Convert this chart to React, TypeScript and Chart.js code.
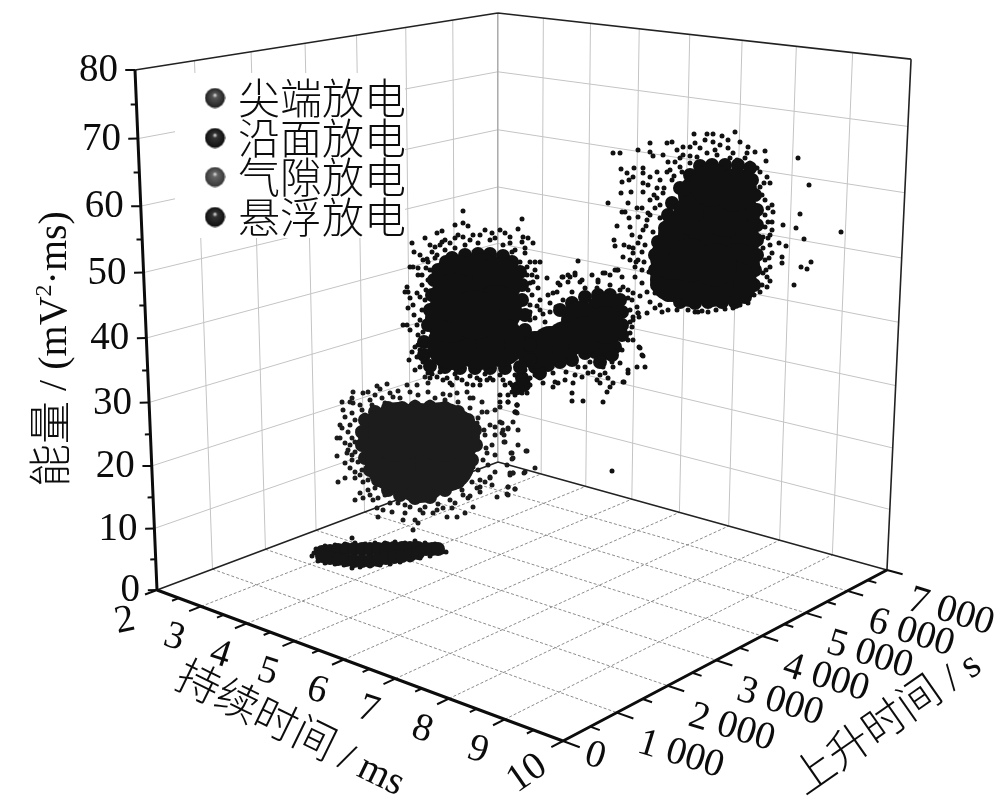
import React, { useEffect, useRef } from "react";
import { Chart, registerables } from "chart.js";

Chart.register(...registerables);

// ---------- axis values ----------
const durationTicks = [2, 3, 4, 5, 6, 7, 8, 9, 10];
const durationMinor = [2.5, 3.5, 4.5, 5.5, 6.5, 7.5, 8.5, 9.5];
const riseTicks = [0, 1000, 2000, 3000, 4000, 5000, 6000, 7000];
const riseMinor = [500, 1500, 2500, 3500, 4500, 5500, 6500];
const energyTicks = [0, 10, 20, 30, 40, 50, 60, 70, 80];
const energyMinor = [5, 15, 25, 35, 45, 55, 65, 75];
const riseLabels = ["0", "1 000", "2 000", "3 000", "4 000", "5 000", "6 000", "7 000"];
const legendNames = ["尖端放电", "沿面放电", "气隙放电", "悬浮放电"];

// ---------- legend markers, in the chart's projected plane ----------
const legendMarks = [[215, 98], [215, 138], [215, 177], [215, 217]];

// ---------- dense cores of each cloud, in the projected plane ----------
const coreA = [[700,195],[725,195],[738,215],[738,240],[738,265],[735,283],[712,285],[690,285],[672,280],[672,258],[680,235],[695,215],[710,240],[690,260],[725,215],[715,265],[712,185],[735,190]];
const coreB = [[457,280],[480,278],[497,282],[497,310],[500,342],[480,345],[452,345],[450,318],[455,298],[475,315]];
const coreC = [[605,312],[600,335],[580,320],[565,340],[550,345],[535,350],[585,335],[605,325]];
const coreD = [[388,437],[450,437],[420,433],[420,473],[395,462],[445,462],[398,432],[442,432]];

// ---------- outer rim of each cloud ----------
const rimA = [[700,166],[712,165],[725,165],[738,165],[750,168],[752,180],[755,195],[757,210],[757,225],[757,240],[757,255],[755,270],[754,285],[745,297],[735,302],[722,302],[708,302],[695,303],[680,302],[668,295],[657,285],[655,270],[655,255],[658,242],[665,228],[668,215],[672,203],[680,188],[690,175]];
const rimB = [[446,262],[452,258],[465,255],[478,254],[490,254],[503,256],[512,262],[520,272],[522,285],[522,300],[525,315],[525,330],[530,345],[530,360],[520,367],[505,368],[490,368],[475,368],[460,368],[445,367],[430,366],[424,355],[424,342],[428,325],[430,310],[432,295],[434,280],[438,270]];
const rimC = [[560,310],[572,303],[585,297],[598,295],[610,295],[620,300],[622,312],[622,325],[622,335],[615,347],[605,353],[595,352],[585,353],[572,360],[560,362],[548,365],[535,367],[522,378],[518,388],[524,385],[540,373],[600,362],[612,355]];
const rimD = [[365,420],[375,412],[388,408],[402,408],[415,407],[430,407],[445,408],[458,412],[468,420],[475,430],[476,445],[472,460],[465,472],[458,482],[445,490],[430,497],[415,498],[400,495],[388,490],[378,480],[370,470],[365,458],[362,445],[362,432]];
const rimE = [[322,552],[330,551],[338,550],[346,549],[354,549],[362,549],[370,549],[378,549],[386,548],[394,548],[402,548],[410,548],[418,548],[426,549],[432,549],[438,549],[322,556],[330,558],[338,559],[346,560],[354,561],[362,561],[370,561],[378,560],[386,558],[394,557],[402,556],[410,555],[418,553]];

// ---------- loose points of each cloud, in the projected plane ----------
const sprayA = [[735,132],[694,134],[707,134],[713,134],[722,136],[728,140],[613,153],[620,153],[638,150],[650,143],[650,152],[653,156],[765,151],[766,161],[798,158],[809,185],[800,214],[783,225],[796,228],[804,239],[841,232],[779,243],[786,246],[782,257],[782,263],[801,267],[807,269],[811,262],[794,285],[770,281],[772,253],
[621,169],[634,168],[627,173],[633,177],[629,180],[622,182],[621,193],[631,192],[608,203],[628,203],[622,212],[625,212],[629,218],[617,226],[614,240],[615,246],[623,257],[624,245],[630,227],[637,208],[638,217],[632,235],[629,247],[633,248],[630,260],[638,260],[643,168],[643,173],[650,177],[643,183],[643,192],[648,185],[657,172],[650,200],[657,198],[642,208],[648,213],[655,208],[647,220],[660,218],[643,230],[640,237],[633,253],[642,252],[635,267],[642,270],[635,277],[642,283],[647,292],[655,293],[668,310],[677,310],[695,312],[698,312],[708,312],[725,309],[740,305],[754,295],[760,292],[767,287],[647,313],[655,308],[638,313],[639,317],[633,320],
[667,143],[672,142],[663,155],[668,162],[677,150],[683,147],[690,147],[695,143],[705,140],[713,142],[720,145],[728,148],[740,142],[748,147],[755,152],[747,153],[733,153],[717,155],[707,153],[697,157],[683,155],[675,162],[680,167],[690,163],[700,163],[710,163],[723,162],[737,160],[750,163],[757,168],[667,172],[660,180],[672,180],[657,188],[663,193],
[767,177],[770,183],[760,187],[765,200],[772,205],[773,212],[765,215],[772,222],[765,227],[772,230],[763,237],[768,238],[763,248],[765,260],[770,267],[763,273],[767,277],
[682,172],[674,176],[664,188],[654,195],[660,205],[650,215],[646,226],[653,232],[638,243],[645,245],[636,262],[644,262],[649,272],[640,296],[650,302],[660,305],[662,312],[688,310],[702,311],[716,310],[733,308],[748,303],[762,285],[766,270],[769,258],[770,245],[770,235],[768,222],[768,208],[762,195],[764,183],[760,172],[745,158],[730,158],[715,150],[700,148],[690,156],[680,158],[670,170]];

const sprayB = [[463,211],[455,225],[463,223],[468,226],[442,231],[437,233],[425,238],[455,238],[412,243],[414,252],[435,247],[442,242],[432,252],[463,237],[473,235],[485,230],[500,230],[505,233],[518,229],[522,219],[523,237],[528,238],[533,243],[522,242],[515,250],[525,253],[535,262],[540,262],[527,267],[532,275],[537,277],[533,282],[538,288],[532,295],[540,300],
[407,287],[408,292],[405,292],[410,298],[413,305],[408,308],[418,275],[413,267],[410,267],[423,260],[427,259],[418,268],[422,285],[420,297],[407,325],[403,325],[417,325],[420,320],[423,332],[420,342],[415,347],[420,350],[417,357],[409,360],[415,370],[420,367],[428,373],[437,377],[443,380],[450,383],[457,378],[467,384],[473,385],[480,385],[487,380],[493,380],[510,383],[517,387],[515,395],[522,393],[508,402],[517,405],[515,412],[500,395],[500,402],
[428,262],[435,258],[445,250],[455,248],[465,245],[478,243],[490,240],[503,245],[512,252],[520,262],[527,275],[528,290],[530,305],[530,320],[530,335],[428,280],[425,300],[422,310],[428,320],[423,340],[418,335],[426,355],[432,365],[440,372],[455,374],[470,376],[485,374],[500,375],[515,375],[525,370],[528,380],[535,375],
[426,268],[422,275],[426,290],[417,293],[414,315],[410,330],[418,345],[412,352],[423,362],[432,374],[447,378],[462,380],[477,378],[490,378],[503,380],[525,375],[440,245],[450,243],[470,240],[495,238],[510,243],[525,248],[530,262],[535,270],[530,283],[437,255],
[445,240],[458,235],[480,235],[492,233],[510,237],[430,245],[420,255],[430,270],[430,378],[452,385],[480,380],[512,385],[530,378],[505,385]];

const sprayC = [[547,278],[548,295],[557,292],[560,285],[563,277],[570,277],[568,282],[575,273],[582,280],[592,275],[598,282],[603,273],[610,275],[617,270],[622,277],[578,261],[543,383],[555,382],[558,383],[553,387],[565,380],[575,375],[572,393],[572,401],[583,401],[603,402],[607,392],[600,383],[597,380],[610,387],[613,383],[623,382],[585,367],[597,360],[603,367],[613,367],[620,363],[628,373],[628,370],[637,367],[645,367],[642,355],[639,347],[633,340],[630,333],[632,327],[633,317],[638,313],[637,307],[632,300],[633,293],[628,290],[623,287],[593,372],[588,373],[582,377],[600,375],[605,373],[608,378],[573,383],[640,348],[643,356],[624,382],[612,471],[562,277],[568,275],[575,275],[605,273],[615,270],[618,270],[553,293],[558,283],[580,282],[598,280],
[540,310],[550,303],[563,300],[572,292],[585,288],[597,288],[610,285],[620,290],[628,298],[630,310],[630,322],[628,340],[622,350],[612,362],[590,362],[578,367],[566,372],[553,373],[540,378],[530,385],[527,393],[512,392],[508,395],[535,318],[543,314],[530,312],[537,306],[550,312],[545,322],[556,307]];

const sprayD = [[387,384],[377,386],[380,389],[368,392],[363,393],[353,392],[352,398],[350,402],[342,402],[353,403],[370,400],[382,398],[390,393],[398,391],[407,385],[417,385],[425,377],[428,383],[418,395],[443,394],[435,398],[457,393],[467,392],[473,398],[482,402],[487,412],[495,410],[500,407],[500,422],[502,433],[495,427],[503,430],[508,428],[518,430],[505,442],[518,445],[527,451],[512,453],[513,458],[507,465],[517,413],[515,412],[508,402],[517,405],[343,410],[345,417],[340,425],[342,428],[350,425],[337,438],[340,438],[345,443],[348,450],[347,453],[337,456],[352,460],[350,468],[355,472],[338,482],[345,478],[355,478],[363,482],[360,493],[355,500],[363,498],[370,495],[373,500],[377,508],[383,510],[378,517],[392,512],[405,513],[403,520],[415,520],[418,523],[413,530],[423,513],[433,513],[447,517],[457,517],[465,513],[473,507],[455,503],[443,508],[497,497],[508,495],[515,489],[508,487],[492,485],[495,472],[490,477],[510,473],[513,473],[525,472],[480,487],[477,488],[485,482],[470,496],[463,495],[480,480],[473,467],[487,453],[492,445],[485,435],[477,423],
[362,410],[372,405],[365,415],[355,420],[358,430],[352,438],[350,445],[355,452],[358,462],[362,470],[368,480],[375,488],[385,495],[398,503],[410,507],[425,507],[438,504],[450,500],[462,490],[472,482],[478,470],[483,460],[486,448],[484,430],[478,418],[470,408],[458,402],[445,400],[430,402],[415,402],[400,398],[385,403],[375,395],[517,405],[516,412],[513,422],[502,423],[508,429],[504,435],[504,442],[526,451],[511,453],[512,459],[535,468],[513,473],[510,475],[524,473],[508,487],[515,489],[507,494],
[360,405],[352,413],[348,432],[355,442],[352,455],[345,463],[360,475],[368,490],[378,498],[390,503],[405,505],[420,510],[437,510],[452,508],[468,498],[480,492],[490,478],[488,465],[495,455],[495,435],[490,425],[482,412],[470,398],[450,395],[428,392],[410,392],[393,397]];

const sprayE = [[312,556],[314,553],[316,549],[318,561],[325,546],[335,545],[345,544],[355,543],[352,538],[365,544],[375,543],[385,543],[395,542],[405,543],[415,541],[425,543],[435,544],[440,547],[446,552],[442,552],[437,552],[430,556],[420,558],[410,560],[400,562],[390,564],[380,565],[370,566],[360,567],[352,568],[344,565],[335,564],[325,563]];

// ---------- projection of (duration, rise time, energy) to the chart plane ----------
function project(d: number, r: number, e: number) {
  const u = (d - 2) / 8, v = r / 7000, w = e / 80;
  const h = -0.1467 * u + 0.1659 * v - 0.06 * w + 1;
  return {
    x: (323.4 * u + 423.6 * v - 30.1 * w + 157) / h,
    y: (42.3 * u - 51.4 * v - 524.2 * w + 590) / h,
  };
}
type P = { x: number; y: number };
const GAP: P = { x: NaN, y: NaN };
const toPts = (l: number[][]): P[] => l.map(([x, y]) => ({ x, y }));
const seg = (items: [number, number, number, number, number, number][]) => {
  const out: P[] = [];
  items.forEach(([a, b, c, d, e, f]) => out.push(project(a, b, c), project(d, e, f), GAP));
  return out;
};

const SERIF = "'Liberation Serif'";
const CJK = "'Noto Sans CJK SC'";

function mixed(ctx: CanvasRenderingContext2D, parts: [string, string, number?][], cx: number, cy: number, deg: number) {
  ctx.save();
  ctx.translate(cx, cy);
  ctx.rotate((deg * Math.PI) / 180);
  ctx.textBaseline = "alphabetic";
  ctx.textAlign = "left";
  let total = 0;
  parts.forEach(([t, f]) => { ctx.font = f; total += ctx.measureText(t).width; });
  let x = -total / 2;
  parts.forEach(([t, f, dy]) => {
    ctx.font = f;
    ctx.fillText(t, x, dy || 0);
    x += ctx.measureText(t).width;
  });
  ctx.restore();
}

function sphere(base: string, mid: string) {
  const c = document.createElement("canvas");
  c.width = 21; c.height = 21;
  const g = c.getContext("2d")!;
  const grad = g.createRadialGradient(10.5, 7.5, 0.5, 10.5, 10.5, 10.5);
  grad.addColorStop(0, "#d8d8d8");
  grad.addColorStop(0.2, mid);
  grad.addColorStop(1, base);
  g.fillStyle = grad;
  g.beginPath();
  g.arc(10.5, 10.5, 10, 0, Math.PI * 2);
  g.fill();
  return c;
}

const MASK_LABEL = "legend-mask";

const decor = {
  id: "decor",
  afterDatasetDraw(chart: any, args: any) {
    if (chart.data.datasets[args.index].label !== MASK_LABEL) return;
    const { x, y } = chart.scales;
    const ctx = chart.ctx;
    ctx.save();
    ctx.fillStyle = "#fff";
    const l = x.getPixelForValue(175), t = y.getPixelForValue(73);
    ctx.fillRect(l, t, x.getPixelForValue(405) - l, y.getPixelForValue(238) - t);
    ctx.restore();
  },
  afterDatasetsDraw(chart: any) {
    const { x, y } = chart.scales;
    const ctx: CanvasRenderingContext2D = chart.ctx;
    ctx.save();
    ctx.fillStyle = "#0c0c0c";
    const num = `39px ${SERIF}`;
    ctx.font = num;
    ctx.textBaseline = "middle";
    ctx.textAlign = "right";
    energyTicks.forEach((e) => {
      const p = project(2, 0, e);
      ctx.fillText(String(e), x.getPixelForValue(p.x - 17), y.getPixelForValue(p.y + 1));
    });
    durationTicks.forEach((d) => {
      const p = project(d, 0, 0);
      const deg = d === 2 ? -12 : d === 10 ? -35 : 18;
      mixed(ctx, [[String(d), num]], x.getPixelForValue(p.x - 30), y.getPixelForValue(p.y + 41), deg);
    });
    riseTicks.forEach((r, i) => {
      const p = project(10, r, 0);
      const dx = r === 0 ? 29 : 61, dy = r === 0 ? 25 : 52;
      mixed(ctx, [[riseLabels[i], num]], x.getPixelForValue(p.x + dx), y.getPixelForValue(p.y + dy), 17);
    });
    const cjk = `300 43px ${CJK}`;
    mixed(ctx, [["持续时间", cjk], [" / ms", `40px ${SERIF}`]], x.getPixelForValue(285), y.getPixelForValue(741), 26);
    mixed(ctx, [["上升时间", cjk], [" / s", `40px ${SERIF}`]], x.getPixelForValue(894), y.getPixelForValue(733), -35);
    mixed(
      ctx,
      [["能量", cjk], [" / (mV", `40px ${SERIF}`], ["2", `24px ${SERIF}`, -15], ["·ms)", `40px ${SERIF}`]],
      x.getPixelForValue(66), y.getPixelForValue(349), -90
    );
    ctx.font = `300 42px ${CJK}`;
    ctx.textAlign = "left";
    ctx.textBaseline = "middle";
    legendNames.forEach((n, i) => {
      ctx.fillText(n, x.getPixelForValue(238), y.getPixelForValue(legendMarks[i][1]));
    });
    ctx.restore();
  },
};

export default function App() {
  const ref = useRef<HTMLCanvasElement>(null);
  useEffect(() => {
    const line = (data: P[], color: string, width: number, order: number, dash: number[] = []) => ({
      type: "line", data, borderColor: color, borderWidth: width, borderDash: dash,
      pointRadius: 0, fill: false, tension: 0, spanGaps: false, order,
    });
    const dots = (list: number[][], radius: number, color: string, order: number) => ({
      type: "scatter", data: toPts(list), backgroundColor: color, borderWidth: 0,
      pointRadius: radius, pointHoverRadius: radius, order,
    });
    const wallV: any[] = [];
    riseTicks.slice(1, -1).forEach((r) => wallV.push([2, r, 0, 2, r, 80]));
    durationTicks.slice(1, -1).forEach((d) => wallV.push([d, 7000, 0, d, 7000, 80]));
    energyTicks.slice(1, -1).forEach((e) => {
      wallV.push([2, 0, e, 2, 7000, e]);
      wallV.push([2, 7000, e, 10, 7000, e]);
    });
    const floor: any[] = [];
    riseTicks.slice(1, -1).forEach((r) => floor.push([2, r, 0, 10, r, 0]));
    durationTicks.slice(1, -1).forEach((d) => floor.push([d, 0, 0, d, 7000, 0]));
    const ticks: any[] = [];
    durationTicks.forEach((d) => ticks.push([d, 0, 0, d, -210, 0]));
    durationMinor.forEach((d) => ticks.push([d, 0, 0, d, -120, 0]));
    riseTicks.forEach((r) => ticks.push([10, r, 0, 10.28, r, 0]));
    riseMinor.forEach((r) => ticks.push([10, r, 0, 10.16, r, 0]));
    const eTicks: any[] = [];
    energyTicks.forEach((e) => eTicks.push([2, 0, e, 1.9, -85, e]));
    energyMinor.forEach((e) => eTicks.push([2, 0, e, 1.94, -50, e]));

    const chart = new Chart(ref.current!, {
      data: {
        datasets: [
          dots(legendMarks, 10, "#000", 0) as any,
          line(seg([[2, 0, 0, 2, 0, 80], [2, 0, 0, 10, 0, 0], [10, 0, 0, 10, 7000, 0]]), "#0c0c0c", 3, 1),
          line(seg(ticks), "#0c0c0c", 2, 1),
          line(seg(eTicks), "#0c0c0c", 2, 1),
          dots(coreA, 22, "#111", 3),
          dots(rimA, 7, "#111", 3),
          dots(sprayA, 2.5, "#111", 3),
          dots(coreB, 25, "#111", 3),
          dots(rimB, 7, "#111", 3),
          dots(sprayB, 2.5, "#111", 3),
          dots(coreC, 19, "#111", 3),
          dots(rimC, 7, "#111", 3),
          dots(sprayC, 2.5, "#111", 3),
          dots(coreD, 30, "#1c1c1c", 3),
          dots(rimD, 7, "#1c1c1c", 3),
          dots(sprayD, 2.5, "#1c1c1c", 3),
          dots(rimE, 7, "#161616", 3),
          dots(sprayE, 2.5, "#161616", 3),
          line(seg([[2, 0, 80, 2, 7000, 80], [2, 7000, 80, 10, 7000, 80], [10, 7000, 80, 10, 7000, 0], [2, 0, 0, 2, 7000, 0], [2, 7000, 0, 10, 7000, 0]]), "#222", 1.6, 4),
          { type: "line", label: MASK_LABEL, data: [], order: 5 },
          line(seg([[2, 7000, 0, 2, 7000, 80]]), "#aaa", 1.5, 6),
          line(seg(wallV), "#c4c4c4", 1, 6),
          line(seg(floor), "#8c8c8c", 1, 6, [3, 2]),
        ],
      } as any,
      options: {
        responsive: false,
        animation: false,
        devicePixelRatio: 1,
        layout: { padding: 0, autoPadding: false },
        events: [],
        scales: {
          x: { type: "linear", min: 0, max: 1000, display: false },
          y: { type: "linear", min: 0, max: 804, reverse: true, display: false },
        },
        plugins: { legend: { display: false }, tooltip: { enabled: false } },
      } as any,
      plugins: [decor],
    });
    const ds: any = chart.data.datasets[0];
    ds.pointStyle = [sphere("#1c1c1c", "#555"), sphere("#0c0c0c", "#333"), sphere("#333", "#666"), sphere("#0c0c0c", "#333")];
    chart.update();
    return () => chart.destroy();
  }, []);
  return (
    <div style={{ position: "absolute", left: 0, top: 0, width: 1000, height: 804, background: "#fff" }}>
      <canvas ref={ref} width={1000} height={804} style={{ display: "block" }} />
    </div>
  );
}
